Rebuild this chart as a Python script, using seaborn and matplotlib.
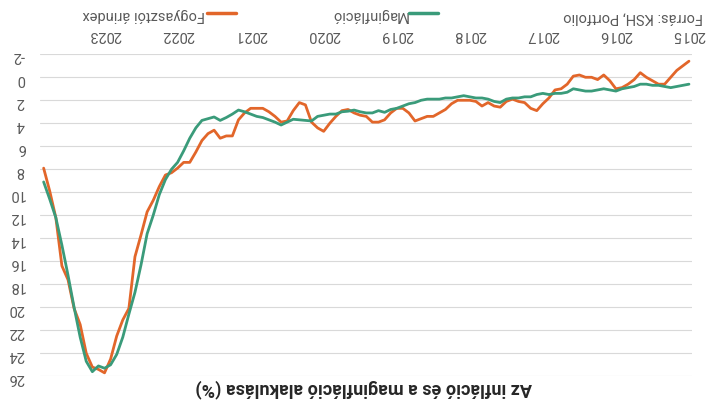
import numpy as np
import pandas as pd
import matplotlib
matplotlib.use("Agg")
import matplotlib.pyplot as plt
import seaborn as sns

# monthly y/y change, Jan 2015 - Nov 2023
cpi = [
    -1.4, -1.0, -0.6, 0.0, 0.6, 0.6, 0.3, 0.0, -0.4, 0.2, 0.6, 0.9,   # 2015
    1.0, 0.3, -0.2, 0.2, 0.0, 0.0, -0.2, -0.1, 0.6, 1.0, 1.1, 1.8,     # 2016
    2.3, 2.9, 2.7, 2.2, 2.1, 1.9, 2.1, 2.6, 2.5, 2.2, 2.5, 2.1,        # 2017
    2.0, 2.0, 2.0, 2.3, 2.8, 3.1, 3.4, 3.4, 3.6, 3.8, 3.1, 2.7,        # 2018
    2.7, 3.1, 3.7, 3.9, 3.9, 3.4, 3.3, 3.1, 2.8, 2.9, 3.4, 4.0,        # 2019
    4.7, 4.4, 3.9, 2.4, 2.2, 2.9, 3.8, 3.9, 3.4, 3.0, 2.7, 2.7,        # 2020
    2.7, 3.1, 3.7, 5.1, 5.1, 5.3, 4.6, 4.9, 5.5, 6.5, 7.4, 7.4,        # 2021
    7.9, 8.3, 8.5, 9.5, 10.7, 11.7, 13.7, 15.6, 20.1, 21.1, 22.5, 24.5,  # 2022
    25.7, 25.4, 25.2, 24.0, 21.5, 20.1, 17.6, 16.4, 12.2, 9.9, 7.9,    # 2023
]
core = [
    0.6, 0.7, 0.8, 0.9, 0.8, 0.7, 0.7, 0.6, 0.6, 0.8, 0.9, 1.0,
    1.2, 1.1, 1.0, 1.1, 1.2, 1.2, 1.1, 1.0, 1.3, 1.4, 1.4, 1.5,
    1.4, 1.5, 1.7, 1.7, 1.8, 1.8, 1.9, 2.2, 2.1, 1.9, 1.8, 1.8,
    1.7, 1.6, 1.7, 1.8, 1.8, 1.9, 1.9, 1.9, 2.0, 2.2, 2.3, 2.5,
    2.7, 2.8, 3.05, 2.9, 3.1, 3.1, 3.0, 2.85, 2.95, 3.0, 3.2, 3.2,
    3.3, 3.4, 3.8, 3.75, 3.7, 3.65, 3.9, 4.15, 3.9, 3.7, 3.5, 3.4,
    3.2, 3.0, 2.85, 3.2, 3.5, 3.75, 3.45, 3.6, 3.75, 4.4, 5.3, 6.4,
    7.4, 8.0, 8.9, 10.2, 12.0, 13.6, 16.3, 18.7, 20.6, 22.6, 24.1, 25.0,
    25.3, 25.1, 25.6, 24.7, 22.6, 20.0, 17.2, 14.6, 12.2, 10.6, 9.1,
]
years = ["2015", "2016", "2017", "2018", "2019", "2020", "2021", "2022", "2023"]
y_ticks = list(range(-2, 28, 2))

series_names = ["Fogyasztói árindex", "Maginfláció"]
colors = {"Fogyasztói árindex": "#E2662A", "Maginfláció": "#3A9B7A"}

title = "Az infláció és a maginfláció alakulása (%)"
source = "Forrás: KSH, Portfolio"

df = pd.concat([
    pd.DataFrame({"month": np.arange(len(cpi)), "value": cpi, "series": series_names[0]}),
    pd.DataFrame({"month": np.arange(len(core)), "value": core, "series": series_names[1]}),
])

sns.set_theme(style="white")
plt.rcParams["font.family"] = ["Roboto", "DejaVu Sans"]

fig = plt.figure(figsize=(7.18, 4.15), dpi=100)
ax = fig.add_axes([0.0557, 0.0933, 0.9081, 0.7759])

sns.lineplot(data=df, x="month", y="value", hue="series", hue_order=series_names,
             palette=colors, linewidth=2.0, ax=ax, legend=False)

# whole chart is shown turned upside down
ax.set_xlim(len(cpi) - 0.4, -0.5)
ax.set_ylim(26, -2)
ax.set_yticks(y_ticks)
ax.set_yticklabels([str(v) for v in y_ticks])
ax.set_xticks(np.arange(len(years)) * 12)
ax.set_xticklabels(years)
ax.xaxis.tick_top()
ax.set_xlabel("")
ax.set_ylabel("")
ax.grid(axis="y", color="#D9D9D9", linewidth=0.8)
ax.grid(axis="x", visible=False)
for s in ax.spines.values():
    s.set_visible(False)
ax.tick_params(axis="both", length=0, labelsize=10.5, labelcolor="#595959", labelrotation=180)
ax.tick_params(axis="y", pad=11)
ax.tick_params(axis="x", pad=9)

fig.text(0.507, 0.063, title, rotation=180, ha="center", va="center",
         fontsize=13, fontweight="bold", color="#262626")
fig.text(0.979, 0.958, source, rotation=180, ha="right", va="center",
         fontsize=10.5, color="#595959")

handles = [plt.Line2D([], [], color=colors[n], linewidth=2.5) for n in series_names]
leg = fig.legend(handles, series_names, loc="center left", bbox_to_anchor=(0.105, 0.965),
                 ncol=2, frameon=False, markerfirst=False, handlelength=2.0,
                 handletextpad=0.1, columnspacing=6.5, fontsize=10.5, borderpad=0)
for t in leg.get_texts():
    t.set_rotation(180)
    t.set_color("#595959")

fig.savefig("out.png", dpi=100)
